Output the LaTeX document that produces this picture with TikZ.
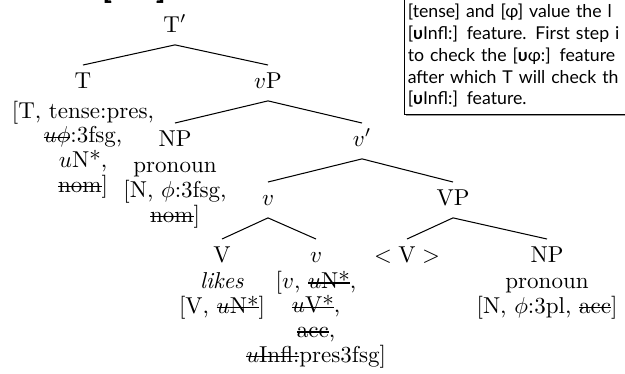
\documentclass[tikz,border=0pt]{standalone}
\usepackage{fontspec}
\newfontfamily\notefont{Lato}
\newcommand{\strike}[1]{\setbox0\hbox{#1}\rlap{\rule[0.5ex]{\wd0}{0.6pt}}\box0}
\usetikzlibrary{calc,positioning,shadows}
\tikzset{
	cat/.style={anchor=base, text height=6.8pt, text depth=2.4pt, inner sep=3pt, font=\fontsize{10}{10.66}\selectfont},
	% anchor base of a multi-line node = baseline of its last line
	feat/.style={anchor=base, align=center, inner sep=0pt, font=\fontsize{10}{10.66}\selectfont},
	branch/.style={line width=0.45pt},
	notebox/.style={draw, fill=white, line width=0.5pt, anchor=south west, align=left, text width=140pt,
		inner xsep=1.4pt, inner ysep=3pt, font=\notefont\fontsize{7.7}{9.5}\selectfont,
		drop shadow={shadow xshift=0.7pt, shadow yshift=-0.7pt, fill=gray!80, opacity=1}},
}

\begin{document}
\begin{tikzpicture}[x=0.435pt,y=-0.435pt]
	\useasboundingbox (0,0) rectangle (625,373);
	\clip (0,0) rectangle (625,373);
	% labels of the tree
	\node[cat] (Tbar) at (175,32) {T$'$};
	\node[cat] (T) at (83,88) {T};
	\node[cat] (vP) at (268,88) {$v$P};
	\node[cat] (NPsubj) at (175,146) {NP};
	\node[cat] (vbar) at (362,146) {$v'$};
	\node[cat] (v) at (268,205) {$v$};
	\node[cat] (VP) at (453,205) {VP};
	\node[cat] (V) at (222,262) {V};
	\node[cat] (vhead) at (316,262) {$v$};
	\node[cat] (Vtrace) at (407,262) {$<\mathrm{V}>$};
	\node[cat] (NPobj) at (547,262) {NP};
	% branches
	\draw[branch] (Tbar.south)--(T.north);
	\draw[branch] (Tbar.south)--(vP.north);
	\draw[branch] (vP.south)--(NPsubj.north);
	\draw[branch] (vP.south)--(vbar.north);
	\draw[branch] (vbar.south)--(v.north);
	\draw[branch] (vbar.south)--(VP.north);
	\draw[branch] (v.south)--(V.north);
	\draw[branch] (v.south)--(vhead.north);
	\draw[branch] (VP.south)--(Vtrace.north);
	\draw[branch] (VP.south)--(NPobj.north);
	% features
	\node[feat] (Tfeat) at (83,192) {[T, tense:pres,\\ \strike{$u\phi$}:3fsg,\\ $u$N*,\\ \strike{nom}]};
	\node[feat] (NPsubjfeat) at (175,222) {pronoun\\{}[N, $\phi$:3fsg,\\ \strike{nom}]};
	\node[feat] (Vfeat) at (222,313) {\textit{likes}\\{}[V, \strike{$u$N*}]};
	\node[feat] (vheadfeat) at (316,362) {[$v$, \strike{$u$N*},\\ \strike{$u$V*},\\ \strike{acc},\\ \strike{$u$Infl:}pres3fsg]};
	\node[feat] (NPobjfeat) at (547,313) {pronoun\\{}[N, $\phi$:3pl, \strike{acc}]};
	% note box, cut at the top and on the right
	\node[notebox] (note) at (404,115) {[tense] and [φ] value the l\\{}[\textbf{υ}Infl:] feature. First step i\\ to check the [\textbf{υ}φ:] feature\\ after which T will check th\\{}[\textbf{υ}Infl:] feature.};
	\node[anchor=base, inner sep=0pt, font=\notefont\bfseries\fontsize{14}{14}\selectfont] (head) at (134,-2) {[\hspace{19pt}]};
\end{tikzpicture}
\end{document}
